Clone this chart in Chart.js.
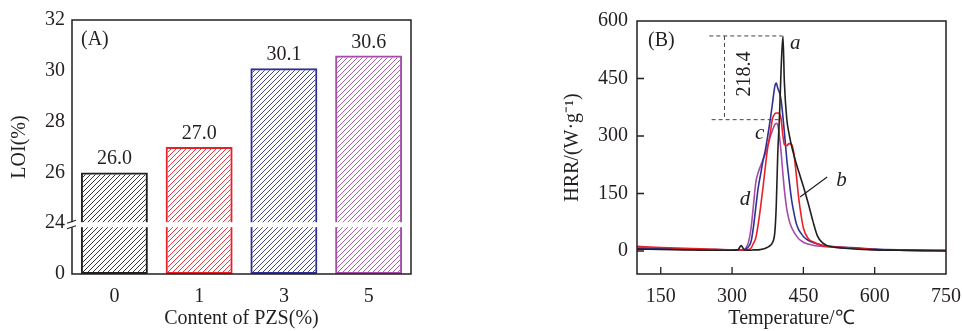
<!DOCTYPE html>
<html>
<head>
<meta charset="utf-8">
<script src="https://cdn.jsdelivr.net/npm/chart.js@4.4.0/dist/chart.umd.min.js"></script>
<style>
body{margin:0;background:#fff;width:962px;height:331px;position:relative;overflow:hidden}
canvas{position:absolute;top:0}
#loi{left:0}
#hrr{left:560px}
</style>
</head>
<body>
<canvas id="loi" width="430" height="331"></canvas>
<canvas id="hrr" width="402" height="331"></canvas>
<script>
// ---- (A) LOI bar data
const pzsContent = ['0', '1', '3', '5'];
const loiValues = [26.0, 27.0, 30.1, 30.6];
const barColors = ['#231f20', '#e8202a', '#2e3192', '#a54ca8'];
const loiTicks = [22, 24, 26, 28, 30, 32]; // 22 shown as "0" (broken axis)

// ---- (B) HRR curves, a..d
const temps = [100, 150, 200, 250, 300, 312, 319, 325, 330, 335, 340, 345, 350, 355, 360, 365, 370, 375, 380, 385, 390, 393, 396, 400, 403, 407, 410, 415, 420, 425, 430, 435, 440, 445, 450, 460, 470, 480, 490, 500, 520, 550, 600, 650, 700, 750];
const hrrA = [5, 4, 3, 2, 2, 3, 14, 4, 2, 2, 2, 3, 3, 3, 4, 5, 7, 10, 14, 22, 50, 120, 250, 360, 470, 561, 440, 345, 305, 275, 250, 228, 208, 188, 168, 125, 78, 38, 22, 14, 9, 6, 3, 2, 1, 0];
const hrrB = [12, 9, 7, 5, 3, 3, 3, 3, 3, 4, 8, 20, 35, 70, 115, 165, 220, 270, 305, 345, 358, 360, 360, 358, 345, 300, 278, 275, 280, 278, 255, 200, 140, 95, 60, 33, 24, 18, 14, 12, 10, 8, 4, 2, 1, 1];
const hrrC = [8, 7, 5, 4, 3, 3, 3, 3, 6, 12, 25, 63, 115, 165, 200, 235, 263, 300, 340, 385, 430, 438, 425, 412, 395, 350, 310, 240, 185, 135, 100, 72, 56, 46, 38, 28, 22, 18, 15, 13, 11, 9, 5, 3, 2, 2];
const hrrD = [5, 5, 4, 3, 2, 2, 3, 3, 10, 25, 60, 120, 180, 205, 222, 238, 254, 275, 297, 315, 330, 333, 330, 295, 260, 200, 160, 110, 80, 62, 50, 40, 32, 27, 23, 18, 15, 13, 12, 11, 9, 7, 4, 3, 2, 1];
const curveColors = ['#231f20', '#e8202a', '#2e3192', '#a54ca8'];
const hrrTicks = [0, 150, 300, 450, 600];
const tempTicks = [150, 300, 450, 600, 750];
const peakA = 561, peakDrop = 218.4;

const ink = '#231f20';
const serif = "'Liberation Serif', 'Times New Roman', serif";
Chart.defaults.font.family = serif;
Chart.defaults.font.size = 20;
Chart.defaults.color = ink;

function hatch(color) {
  const s = 5, cv = document.createElement('canvas');
  cv.width = cv.height = s;
  const g = cv.getContext('2d');
  g.strokeStyle = color; g.lineWidth = 0.9;
  g.beginPath();
  g.moveTo(0, s); g.lineTo(s, 0);
  g.moveTo(-1, 1); g.lineTo(1, -1);
  g.moveTo(s - 1, s + 1); g.lineTo(s + 1, s - 1);
  g.stroke();
  return g.createPattern(cv, 'repeat');
}

const frame = {
  id: 'frame',
  afterDraw(c) {
    const a = c.chartArea, ctx = c.ctx;
    ctx.save();
    ctx.strokeStyle = ink; ctx.lineWidth = 1.5;
    ctx.strokeRect(a.left, a.top, a.right - a.left, a.bottom - a.top);
    ctx.restore();
  }
};

const barLabels = {
  id: 'barLabels',
  afterDraw(c) {
    const ctx = c.ctx;
    ctx.save();
    ctx.font = '20px ' + serif; ctx.fillStyle = ink;
    ctx.textAlign = 'center'; ctx.textBaseline = 'alphabetic';
    c.getDatasetMeta(0).data.forEach((b, i) => ctx.fillText(loiValues[i].toFixed(1), b.x, b.y - 8));
    ctx.textAlign = 'left'; ctx.textBaseline = 'middle';
    ctx.fillText('(A)', c.chartArea.left + 9, c.chartArea.top + 20);
    ctx.restore();
  }
};

const axisBreak = {
  id: 'axisBreak',
  afterDraw(c) {
    const a = c.chartArea, ctx = c.ctx;
    const y = c.scales.y.getPixelForValue(24) + 1.5;
    ctx.save();
    ctx.fillStyle = '#fff';
    ctx.fillRect(a.left - 2, y - 2.5, a.right - a.left, 5);
    ctx.strokeStyle = ink; ctx.lineWidth = 1.2;
    ctx.beginPath();
    ctx.moveTo(a.left - 5, y - 1.5); ctx.lineTo(a.left + 4, y - 4.5);
    ctx.moveTo(a.left - 5, y + 4); ctx.lineTo(a.left + 4, y + 1);
    ctx.stroke();
    ctx.restore();
  }
};

function fixX(h) {
  return s => { s.height = h; s.paddingLeft = 0; s.paddingRight = 0; };
}

new Chart(document.getElementById('loi'), {
  type: 'bar',
  data: {
    labels: pzsContent,
    datasets: [{
      data: loiValues,
      base: 22,
      backgroundColor: barColors.map(hatch),
      borderColor: barColors,
      borderWidth: 2,
      borderSkipped: false,
      barPercentage: 0.79,
      categoryPercentage: 1
    }]
  },
  options: {
    responsive: false, devicePixelRatio: 1, animation: false, events: [],
    layout: { padding: { top: 20, right: 19, left: 0, bottom: 0 } },
    plugins: { legend: { display: false }, tooltip: { enabled: false } },
    scales: {
      x: {
        grid: { display: false, drawTicks: false }, border: { display: false },
        ticks: { padding: 11 },
        title: { display: true, text: 'Content of PZS(%)', padding: { top: 0, bottom: 0 } },
        afterFit: fixX(57)
      },
      y: {
        min: 22, max: 32,
        grid: { display: false, drawTicks: false }, border: { display: false },
        afterBuildTicks(s) { s.ticks = loiTicks.map(v => ({ value: v })); },
        ticks: { padding: 7, callback: v => (v === 22 ? '0' : String(v)) },
        title: { display: true, text: 'LOI(%)', padding: { top: 8, bottom: 0 } },
        afterFit(s) { s.width = 72; }
      }
    }
  },
  plugins: [frame, barLabels, axisBreak]
});

const innerTicks = {
  id: 'innerTicks',
  afterDraw(c) {
    const a = c.chartArea, ctx = c.ctx, xs = c.scales.x, ys = c.scales.y;
    ctx.save();
    ctx.strokeStyle = ink; ctx.lineWidth = 1.3;
    ctx.beginPath();
    hrrTicks.forEach(v => { if (v >= 600) return; const y = ys.getPixelForValue(v); ctx.moveTo(a.left, y); ctx.lineTo(a.left + 7, y); });
    tempTicks.forEach(v => { if (v >= 750) return; const x = xs.getPixelForValue(v); ctx.moveTo(x, a.bottom); ctx.lineTo(x, a.bottom - 7); });
    ctx.stroke();
    ctx.restore();
  }
};

const notes = {
  id: 'notes',
  afterDraw(c) {
    const ctx = c.ctx, xs = c.scales.x, ys = c.scales.y;
    const X = v => xs.getPixelForValue(v), Y = v => ys.getPixelForValue(v);
    const low = peakA - peakDrop;
    ctx.save();
    ctx.strokeStyle = '#444'; ctx.lineWidth = 1; ctx.setLineDash([4, 3]);
    ctx.beginPath();
    ctx.moveTo(X(252), Y(peakA)); ctx.lineTo(X(405), Y(peakA));
    ctx.moveTo(X(284), Y(peakA)); ctx.lineTo(X(284), Y(low));
    ctx.moveTo(X(257), Y(low)); ctx.lineTo(X(402), Y(low));
    ctx.stroke();
    ctx.setLineDash([]);
    ctx.strokeStyle = ink; ctx.lineWidth = 1.2;
    ctx.beginPath();
    ctx.moveTo(X(443), Y(141)); ctx.lineTo(X(500), Y(193));
    ctx.stroke();
    ctx.fillStyle = ink;
    ctx.font = '20px ' + serif; ctx.textAlign = 'left'; ctx.textBaseline = 'middle';
    ctx.fillText('(B)', c.chartArea.left + 11, c.chartArea.top + 20);
    ctx.save();
    ctx.translate(X(327), Y(462));
    ctx.rotate(-Math.PI / 2);
    ctx.textAlign = 'center';
    ctx.fillText(String(peakDrop), 0, 0);
    ctx.restore();
    ctx.font = 'italic 21px ' + serif; ctx.textAlign = 'center';
    ctx.fillText('a', X(433), Y(541));
    ctx.fillText('b', X(530), Y(185));
    ctx.fillText('c', X(358), Y(306));
    ctx.fillText('d', X(327), Y(135));
    ctx.restore();
  }
};

function curve(vals, color) {
  return {
    data: temps.map((t, i) => ({ x: t, y: vals[i] })),
    borderColor: color, borderWidth: 1.6, pointRadius: 0,
    cubicInterpolationMode: 'monotone', fill: false
  };
}

new Chart(document.getElementById('hrr'), {
  type: 'line',
  data: { datasets: [hrrA, hrrB, hrrC, hrrD].map((d, i) => curve(d, curveColors[i])) },
  options: {
    responsive: false, devicePixelRatio: 1, animation: false, events: [],
    layout: { padding: { top: 20, right: 16, left: 0, bottom: 0 } },
    plugins: { legend: { display: false }, tooltip: { enabled: false } },
    scales: {
      x: {
        type: 'linear', min: 100, max: 750,
        grid: { display: false, drawTicks: false }, border: { display: false },
        afterBuildTicks(s) { s.ticks = tempTicks.map(v => ({ value: v })); },
        ticks: { padding: 11 },
        title: { display: true, text: 'Temperature/\u2103', padding: { top: 0, bottom: 0 } },
        afterFit: fixX(57)
      },
      y: {
        min: -60, max: 600,
        grid: { display: false, drawTicks: false }, border: { display: false },
        afterBuildTicks(s) { s.ticks = hrrTicks.map(v => ({ value: v })); },
        ticks: { padding: 9 },
        title: { display: true, text: 'HRR/(W\u00b7g\u207b\u00b9)', padding: { top: 1, bottom: 0 } },
        afterFit(s) { s.width = 77; }
      }
    }
  },
  plugins: [frame, innerTicks, notes]
});
</script>
</body>
</html>
